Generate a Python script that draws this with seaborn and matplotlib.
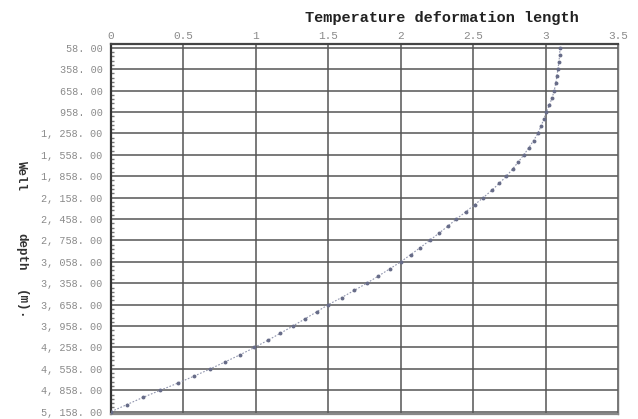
import matplotlib
matplotlib.use("Agg")
import matplotlib.pyplot as plt
import seaborn as sns
import pandas as pd
from matplotlib.ticker import MultipleLocator, FixedLocator

# ---- data ----
depths = [58 + 100 * i for i in range(52)]
deformation = [
    3.100, 3.097, 3.092, 3.085, 3.078, 3.070, 3.060, 3.045, 3.027, 3.005,
    2.988, 2.968, 2.947, 2.917, 2.885, 2.850, 2.812, 2.772, 2.730, 2.680,
    2.627, 2.570, 2.510, 2.448, 2.385, 2.325, 2.263, 2.200, 2.135, 2.068,
    2.000, 1.923, 1.845, 1.765, 1.680, 1.592, 1.500, 1.420, 1.338, 1.255,
    1.170, 1.082, 0.990, 0.893, 0.790, 0.685, 0.575, 0.460, 0.340, 0.220,
    0.110, 0.000,
]
ytick_values = [58 + 300 * i for i in range(18)]
ytick_labels = [
    "58. 00", "358. 00", "658. 00", "958. 00", "1, 258. 00", "1, 558. 00",
    "1, 858. 00", "2, 158. 00", "2, 458. 00", "2, 758. 00", "3, 058. 00",
    "3, 358. 00", "3, 658. 00", "3, 958. 00", "4, 258. 00", "4, 558. 00",
    "4, 858. 00", "5, 158. 00",
]
xtick_values = [0, 0.5, 1, 1.5, 2, 2.5, 3, 3.5]
xtick_labels = ["0", "0.5", "1", "1.5", "2", "2.5", "3", "3.5"]
x_title = "Temperature deformation length"
y_title_parts = ["Well", "depth", "(m)", "."]

df = pd.DataFrame({"depth": depths, "deformation": deformation})

sns.set_theme(style="white")
plt.rcParams["font.family"] = ["Liberation Mono", "DejaVu Sans Mono"]

fig = plt.figure(figsize=(6.38, 4.19), dpi=100)
W, H = 638, 419
ax = fig.add_axes([111 / W, 1 - 413.5 / H, (618 - 111) / W, (413.5 - 43.6) / H])

sns.lineplot(data=df, x="deformation", y="depth", sort=False, ax=ax,
             color="#8f94ad", linewidth=0.8, linestyle=(0, (1.5, 1.5)),
             marker="o", markersize=2.8, markerfacecolor="#676c88",
             markeredgecolor="#676c88", markeredgewidth=0, zorder=5)

ax.set_xlim(0, 3.5)
ax.set_ylim(5183, 0)

ax.xaxis.tick_top()
ax.set_xticks(xtick_values)
ax.set_xticklabels(xtick_labels, fontsize=8, color="#8a8a8a")
ax.yaxis.set_major_locator(FixedLocator(ytick_values))
ax.set_yticklabels(ytick_labels, fontsize=7.3, color="#8a8a8a")
ax.yaxis.set_minor_locator(FixedLocator([58 + 60 * i for i in range(86)]))
ax.tick_params(axis="x", which="both", length=0, pad=2)
ax.tick_params(axis="y", which="major", length=4, direction="in", color="#555555", pad=6)
ax.tick_params(axis="y", which="minor", length=2.5, direction="in", color="#777777", left=True)

ax.grid(True, which="major", color="#555555", linewidth=1.1)
ax.set_xlabel("")
ax.set_ylabel("")

for side, lw, c in [("left", 1.6, "#333333"), ("top", 1.6, "#444444"),
                    ("right", 1.0, "#777777"), ("bottom", 1.6, "#888888")]:
    ax.spines[side].set_visible(True)
    ax.spines[side].set_linewidth(lw)
    ax.spines[side].set_color(c)

fig.text(442 / W, 1 - 18 / H, x_title, ha="center", va="center",
         fontsize=11, fontweight="bold", color="#222222")

for part, yc in zip(y_title_parts, [175.5, 252, 301.5, 316]):
    fig.text(21 / W, 1 - yc / H, part, ha="center", va="center", rotation=270,
             fontsize=9, fontweight="bold", color="#333333")

fig.savefig("out.png", dpi=100)
